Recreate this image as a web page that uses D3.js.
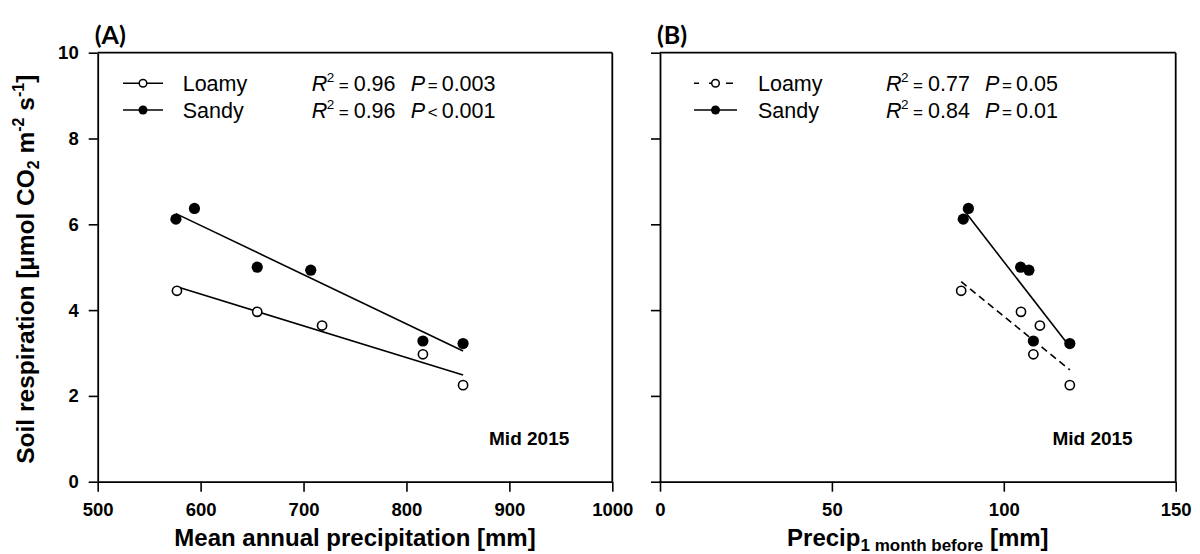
<!DOCTYPE html>
<html><head><meta charset="utf-8">
<script src="https://cdn.jsdelivr.net/npm/d3@7"></script>
<style>
body{margin:0;background:#fff}
svg{display:block}
text{font-family:"Liberation Sans",Arial,sans-serif;fill:#000}
</style>
</head><body>
<svg id="c" width="1200" height="554"></svg>
<script>
// ---- data ----
const yTicks = [0, 2, 4, 6, 8, 10];
const xTicksA = [500, 600, 700, 800, 900, 1000];
const xTicksB = [0, 50, 100, 150];
const respLoamy = [4.45, 3.96, 3.64, 2.97, 2.25];
const respSandy = [6.12, 6.37, 5.00, 4.93, 3.28, 3.22];
const mapLoamy = [577, 655, 718, 816, 855];
const mapSandy = [576, 594, 655, 707, 816, 855];
const precipLoamy = [87.6, 105.0, 110.5, 108.6, 119.2];
const precipSandy = [88.2, 89.7, 104.9, 107.3, 108.6, 119.2];
const seriesNames = ["Loamy", "Sandy"];
const statsA = [{r2: "0.96", op: "=", p: "0.003"}, {r2: "0.96", op: "<", p: "0.001"}];
const statsB = [{r2: "0.77", op: "=", p: "0.05"}, {r2: "0.84", op: "=", p: "0.01"}];
const panelLabels = ["(A)", "(B)"];
const yearLabel = "Mid 2015";

// ---- layout ----
const svg = d3.select("#c");
const yTop = 52.7, yBot = 481.7;
const y = d3.scaleLinear().domain([0, 10]).range([yBot, yTop]);

function fit(xs, ys) {
  const mx = d3.mean(xs), my = d3.mean(ys);
  let sxy = 0, sxx = 0;
  xs.forEach((v, i) => { sxy += (v - mx) * (ys[i] - my); sxx += (v - mx) * (v - mx); });
  const b = sxy / sxx, a = my - b * mx;
  const [x0, x1] = d3.extent(xs);
  return [[x0, a + b * x0], [x1, a + b * x1]];
}

function panel(opts) {
  const {x, xTicks, loamyX, sandyX, stats, label, xTitle, loamyDash, leg} = opts;
  const g = svg.append("g");
  const [xl, xr] = x.range();

  // regression lines
  const line = d3.line().x(d => x(d[0])).y(d => y(d[1]));
  g.append("path").attr("d", line(fit(loamyX, respLoamy)))
    .attr("fill", "none").attr("stroke", "#000").attr("stroke-width", 1.6)
    .attr("stroke-dasharray", loamyDash ? "7,4.5" : null);
  g.append("path").attr("d", line(fit(sandyX, respSandy)))
    .attr("fill", "none").attr("stroke", "#000").attr("stroke-width", 1.6);

  // points
  g.selectAll(".pl").data(loamyX.map((v, i) => [v, respLoamy[i]])).join("circle")
    .attr("cx", d => x(d[0])).attr("cy", d => y(d[1])).attr("r", 4.6)
    .attr("fill", "#fff").attr("stroke", "#000").attr("stroke-width", 1.6);
  g.selectAll(".ps").data(sandyX.map((v, i) => [v, respSandy[i]])).join("circle")
    .attr("cx", d => x(d[0])).attr("cy", d => y(d[1])).attr("r", 5.6)
    .attr("fill", "#000");

  // box top/right
  g.append("line").attr("x1", xl).attr("x2", xr).attr("y1", yTop).attr("y2", yTop)
    .attr("stroke", "#000").attr("stroke-width", 1.8);
  g.append("line").attr("x1", xr).attr("x2", xr).attr("y1", yTop).attr("y2", yBot)
    .attr("stroke", "#000").attr("stroke-width", 1.8);

  // axes
  const ax = g.append("g").attr("transform", `translate(0,${yBot})`)
    .call(d3.axisBottom(x).tickValues(xTicks).tickSize(10).tickPadding(11).tickSizeOuter(0).tickFormat(d3.format("d")));
  const ay = g.append("g").attr("transform", `translate(${xl},0)`)
    .call(d3.axisLeft(y).tickValues(yTicks).tickSize(9).tickPadding(10).tickSizeOuter(0).tickFormat(d3.format("d")));
  if (opts.hideYLabels) ay.selectAll("text").remove();
  [ax, ay].forEach(a => {
    a.select(".domain").attr("stroke-width", 1.8);
    a.selectAll(".tick line").attr("stroke-width", 1.6);
    a.selectAll("text").attr("font-size", 18.5).attr("font-weight", "bold")
      .attr("font-family", "'Liberation Sans',Arial,sans-serif");
  });

  // panel label
  svg.append("text").attr("x", xl - 3).attr("y", 44).text(label)
    .attr("font-weight", "bold").attr("font-size", 25)
    .style("font-family", "Lato,'Open Sans',sans-serif");

  // year label
  g.append("text").attr("x", xr - 43).attr("y", 445).attr("text-anchor", "end")
    .attr("font-size", 19).attr("font-weight", "bold").text(yearLabel);

  // legend
  const rowsY = [83.3, 110];
  const off = [0, 15, 27, 42, 99, 116, 130];
  seriesNames.forEach((name, i) => {
    const cy = rowsY[i];
    const by = cy + 7.5;
    g.append("line").attr("x1", xl + leg.l0).attr("x2", xl + leg.l1).attr("y1", cy).attr("y2", cy)
      .attr("stroke", "#000").attr("stroke-width", 1.6)
      .attr("stroke-dasharray", (i === 0 && loamyDash) ? "7,10" : null)
      .attr("stroke-dashoffset", (i === 0 && loamyDash) ? 2 : null);
    g.append("circle").attr("cx", xl + leg.m).attr("cy", cy).attr("r", i === 0 ? 3.8 : 4.5)
      .attr("fill", i === 0 ? "#fff" : "#000").attr("stroke", "#000").attr("stroke-width", i === 0 ? 1.5 : 0);
    g.append("text").attr("x", xl + leg.t).attr("y", by).attr("font-size", 21.5).text(name);
    const sx = xl + leg.s;
    const st = g.append("text").attr("y", by).attr("font-size", 21.5);
    st.append("tspan").attr("x", sx + off[0]).attr("font-style", "italic").text("R");
    st.append("tspan").attr("x", sx + off[1]).attr("font-size", 13.5).attr("dy", -9).text("2");
    st.append("tspan").attr("x", sx + off[2]).attr("dy", 9).attr("font-size", 17).text("=");
    st.append("tspan").attr("x", sx + off[3]).text(stats[i].r2);
    st.append("tspan").attr("x", sx + off[4]).attr("font-style", "italic").text("P");
    st.append("tspan").attr("x", sx + off[5]).attr("font-size", 17).text(stats[i].op);
    st.append("tspan").attr("x", sx + off[6]).text(stats[i].p);
  });

  // x title
  const tx = g.append("text").attr("x", (xl + xr) / 2).attr("y", 546).attr("text-anchor", "middle")
    .attr("font-size", 24).attr("font-weight", "bold");
  xTitle(tx);
}

const xA = d3.scaleLinear().domain([500, 1000]).range([97.7, 612.3]);
const xB = d3.scaleLinear().domain([0, 150]).range([660, 1175.7]);

panel({x: xA, xTicks: xTicksA, loamyX: mapLoamy, sandyX: mapSandy, stats: statsA, label: panelLabels[0],
  loamyDash: false, leg: {l0: 25.3, l1: 65.3, m: 45.3, t: 85, s: 214},
  xTitle: t => t.text("Mean annual precipitation [mm]")});
panel({x: xB, xTicks: xTicksB, loamyX: precipLoamy, sandyX: precipSandy, stats: statsB, label: panelLabels[1],
  loamyDash: true, hideYLabels: true, leg: {l0: 34, l1: 77, m: 55.5, t: 98, s: 226},
  xTitle: t => {
    t.append("tspan").text("Precip");
    t.append("tspan").attr("font-size", 17).attr("dy", 5).text("1 month before");
    t.append("tspan").attr("dy", -5).text(" [mm]");
  }});

// y title
const yt = svg.append("text").attr("transform", `translate(34,${(yTop + yBot) / 2 + 2}) rotate(-90)`)
  .attr("text-anchor", "middle").attr("font-size", 24.5).attr("font-weight", "bold");
yt.append("tspan").text("Soil respiration [µmol CO");
yt.append("tspan").attr("font-size", 16).attr("dy", 5).text("2");
yt.append("tspan").attr("dy", -5).text(" m");
yt.append("tspan").attr("font-size", 16).attr("dy", -10).text("-2");
yt.append("tspan").attr("dy", 10).text(" s");
yt.append("tspan").attr("font-size", 16).attr("dy", -10).text("-1");
yt.append("tspan").attr("dy", 10).text("]");
</script>
</body></html>
